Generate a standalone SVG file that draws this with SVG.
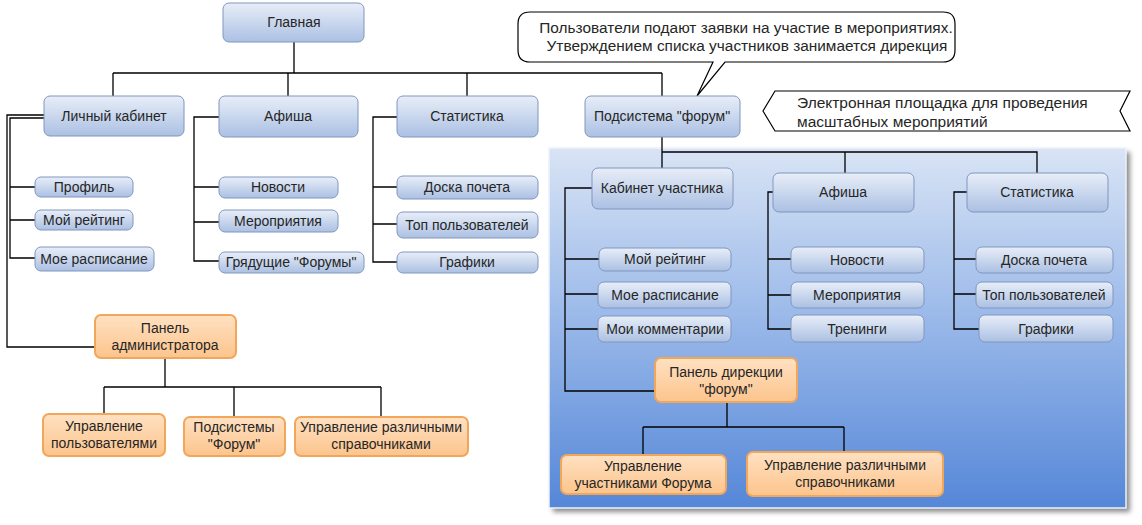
<svg xmlns="http://www.w3.org/2000/svg" width="1142" height="525" viewBox="0 0 1142 525">
<defs>
<linearGradient id="gb" x1="0" y1="0" x2="0" y2="1"><stop offset="0" stop-color="#e8eef8"/><stop offset="1" stop-color="#abc0e3"/></linearGradient>
<linearGradient id="go" x1="0" y1="0" x2="0" y2="1"><stop offset="0" stop-color="#ffe1c2"/><stop offset="1" stop-color="#fcc48c"/></linearGradient>
<linearGradient id="gp" x1="0" y1="0" x2="0" y2="1"><stop offset="0" stop-color="#d9e4f5"/><stop offset="0.45" stop-color="#9dbbea"/><stop offset="1" stop-color="#5587d8"/></linearGradient>
<filter id="sh" x="-5%" y="-5%" width="110%" height="110%"><feGaussianBlur stdDeviation="2.5"/></filter>
<style>
.b{fill:url(#gb);stroke:#8196bf;stroke-width:1}
.o{fill:url(#go);stroke:#f2a65a;stroke-width:2}
text{font-family:"Liberation Sans",Arial,sans-serif;font-size:14px;fill:#262626;text-anchor:middle}
.l{text-anchor:start;font-size:15.5px}
.c{font-size:15.4px}
.cn{fill:none;stroke:#000;stroke-width:1.3}
</style>
</defs>
<rect width="1142" height="525" fill="#fff"/>
<g id="panel">
<rect x="553" y="152" width="577" height="360" fill="#8a8a8a" filter="url(#sh)"/>
<rect x="549" y="148" width="577" height="360" fill="url(#gp)" stroke="#eef3fb" stroke-width="1.5"/>
</g>
<g id="connectors" class="cn">
<path d="M294,42V73M113,73H662M113,73V96M288,73V96M467,73V96M662,73V96"/>
<path d="M44,115H7V347H95M44,118H10V258H35M10,187H35M10,220H35"/>
<path d="M219,117H194V261H219M194,187H219M194,222H219"/>
<path d="M397,117H373V262H397M373,187H397M373,224H397"/>
<path d="M662,137V168M662,152H1037V173M845,152V173"/>
<path d="M592,188H565V391H655M565,259H599M565,294H598M565,329H598"/>
<path d="M773,192H768V329H791M768,259H791M768,295H791"/>
<path d="M967,192H954V329H979M954,259H976M954,294H976"/>
<path d="M165,358V387M104,387H381M104,387V414M234,387V417M381,387V417"/>
<path d="M727,402V427M643,427H844M643,427V455M844,427V452"/>
</g>
<g id="callout">
<path d="M530,12H943Q955,12 955,24V50Q955,62 943,62H725L697,96L713,62H530Q518,62 518,50V24Q518,12 530,12Z" fill="#fff" stroke="#000" stroke-width="1.2"/>
<text class="c" x="746" y="33">Пользователи подают заявки на участие в мероприятиях.</text>
<text class="c" x="747" y="51">Утверждением списка участников занимается дирекция</text>
</g>
<g id="banner">
<path d="M775,91H1130L1120,111L1130,131H775L763,111Z" fill="#fff" stroke="#000" stroke-width="1.2"/>
<text class="l" x="797" y="108">Электронная площадка для проведения</text>
<text class="l" x="797" y="127">масштабных мероприятий</text>
</g>
<g id="n-glavnaya"><rect class="b" x="223" y="3" width="141" height="39" rx="6"/><text x="294" y="27">Главная</text></g>
<g id="n-lk"><rect class="b" x="44" y="96" width="140" height="40" rx="6"/><text x="114" y="121">Личный кабинет</text></g>
<g id="n-afisha"><rect class="b" x="219" y="96" width="139" height="41" rx="6"/><text x="288" y="121">Афиша</text></g>
<g id="n-stat"><rect class="b" x="397" y="96" width="141" height="41" rx="6"/><text x="467" y="121">Статистика</text></g>
<g id="n-forum"><rect class="b" x="585" y="96" width="155" height="41" rx="6"/><text x="662" y="121">Подсистема "форум"</text></g>
<g id="n-profile"><rect class="b" x="35" y="177" width="98" height="20" rx="6"/><text x="84" y="192">Профиль</text></g>
<g id="n-rating1"><rect class="b" x="35" y="210" width="98" height="20" rx="6"/><text x="84" y="225">Мой рейтинг</text></g>
<g id="n-sched1"><rect class="b" x="35" y="247" width="119" height="24" rx="6"/><text x="94" y="264">Мое расписание</text></g>
<g id="n-news1"><rect class="b" x="219" y="177" width="119" height="21" rx="6"/><text x="278" y="192">Новости</text></g>
<g id="n-events1"><rect class="b" x="219" y="210" width="119" height="22" rx="6"/><text x="278" y="226">Мероприятия</text></g>
<g id="n-upcoming"><rect class="b" x="219" y="252" width="145" height="21" rx="6"/><text x="291" y="267">Грядущие "Форумы"</text></g>
<g id="n-honor1"><rect class="b" x="397" y="176" width="141" height="23" rx="6"/><text x="467" y="192">Доска почета</text></g>
<g id="n-top1"><rect class="b" x="397" y="212" width="141" height="26" rx="6"/><text x="467" y="230">Топ пользователей</text></g>
<g id="n-charts1"><rect class="b" x="397" y="252" width="141" height="21" rx="6"/><text x="467" y="267">Графики</text></g>
<g id="n-admin"><rect class="o" x="95" y="315" width="141" height="43" rx="6"/><text x="165" y="333">Панель</text><text x="165" y="350">администратора</text></g>
<g id="n-users"><rect class="o" x="43" y="414" width="122" height="42" rx="6"/><text x="104" y="431">Управление</text><text x="104" y="448">пользователями</text></g>
<g id="n-subs"><rect class="o" x="184" y="417" width="101" height="39" rx="6"/><text x="234" y="432">Подсистемы</text><text x="234" y="449">"Форум"</text></g>
<g id="n-refs1"><rect class="o" x="295" y="417" width="173" height="39" rx="6"/><text x="381" y="432">Управление различными</text><text x="381" y="449">справочниками</text></g>
<g id="n-cab"><rect class="b" x="592" y="168" width="141" height="41" rx="6"/><text x="662" y="193">Кабинет участника</text></g>
<g id="n-afisha2"><rect class="b" x="773" y="173" width="141" height="39" rx="6"/><text x="843" y="197">Афиша</text></g>
<g id="n-stat2"><rect class="b" x="967" y="173" width="141" height="39" rx="6"/><text x="1037" y="197">Статистика</text></g>
<g id="n-rating2"><rect class="b" x="599" y="248" width="132" height="23" rx="6"/><text x="665" y="264">Мой рейтинг</text></g>
<g id="n-sched2"><rect class="b" x="598" y="282" width="133" height="26" rx="6"/><text x="665" y="300">Мое расписание</text></g>
<g id="n-comments"><rect class="b" x="598" y="316" width="133" height="26" rx="6"/><text x="665" y="334">Мои комментарии</text></g>
<g id="n-news2"><rect class="b" x="791" y="247" width="133" height="26" rx="6"/><text x="857" y="265">Новости</text></g>
<g id="n-events2"><rect class="b" x="791" y="282" width="133" height="26" rx="6"/><text x="857" y="300">Мероприятия</text></g>
<g id="n-train"><rect class="b" x="791" y="315" width="133" height="27" rx="6"/><text x="857" y="334">Тренинги</text></g>
<g id="n-honor2"><rect class="b" x="976" y="247" width="137" height="26" rx="6"/><text x="1044" y="265">Доска почета</text></g>
<g id="n-top2"><rect class="b" x="976" y="282" width="137" height="26" rx="6"/><text x="1044" y="300">Топ пользователей</text></g>
<g id="n-charts2"><rect class="b" x="979" y="315" width="134" height="27" rx="6"/><text x="1046" y="334">Графики</text></g>
<g id="n-direction"><rect class="o" x="655" y="358" width="142" height="44" rx="6"/><text x="726" y="377">Панель дирекции</text><text x="726" y="394">"форум"</text></g>
<g id="n-members"><rect class="o" x="561" y="455" width="165" height="39" rx="6"/><text x="643" y="471">Управление</text><text x="643" y="488">участниками Форума</text></g>
<g id="n-refs2"><rect class="o" x="747" y="452" width="196" height="44" rx="6"/><text x="845" y="470">Управление различными</text><text x="845" y="487">справочниками</text></g>
</svg>
